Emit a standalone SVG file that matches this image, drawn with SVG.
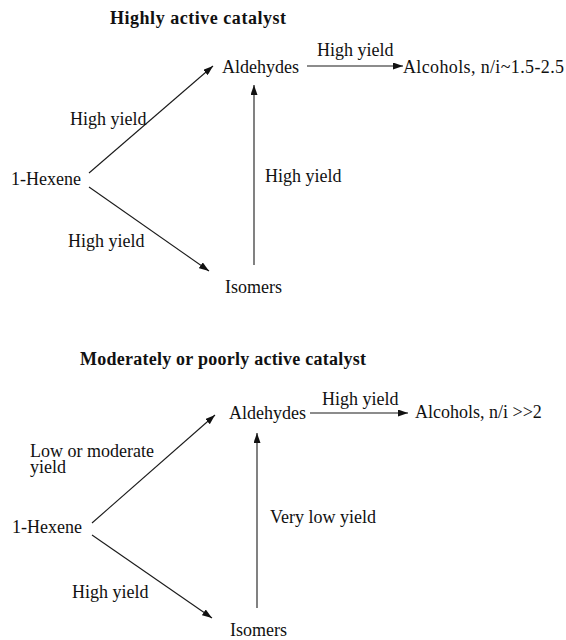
<svg xmlns="http://www.w3.org/2000/svg" width="566" height="640" viewBox="0 0 566 640">
<defs>
<style>
text{font-family:"Liberation Serif","Times New Roman",serif;font-size:18px;fill:#111;}
.title{font-weight:bold;}
.edge{stroke:#1a1a1a;stroke-width:1.1;fill:none;marker-end:url(#arr);}
</style>
<marker id="arr" markerUnits="userSpaceOnUse" markerWidth="10" markerHeight="7" refX="10" refY="3.5" orient="auto">
<path d="M0,0 L10,3.5 L0,7 z" fill="#111"/>
</marker>
</defs>
<rect width="566" height="640" fill="#fff"/>
<!-- Top section -->
<text class="title" x="110" y="24" textLength="176" lengthAdjust="spacing">Highly active catalyst</text>
<g id="top-hexene"><text x="11" y="185">1-Hexene</text></g>
<g id="top-aldehydes"><text x="222" y="73">Aldehydes</text></g>
<g id="top-alcohols"><text x="403" y="73" textLength="161" lengthAdjust="spacing">Alcohols, n/i~1.5-2.5</text></g>
<g id="top-isomers"><text x="225" y="293">Isomers</text></g>
<g id="top-connectors">
<line class="edge" x1="89" y1="173" x2="213" y2="66"/>
<line class="edge" x1="89" y1="187" x2="209" y2="271"/>
<line class="edge" x1="254" y1="265" x2="254" y2="85"/>
<line class="edge" x1="307" y1="66" x2="403" y2="66"/>
<text x="70" y="125">High yield</text>
<text x="68" y="247">High yield</text>
<text x="265" y="182">High yield</text>
<text x="317" y="56">High yield</text>
</g>
<!-- Bottom section -->
<text class="title" x="80" y="365" textLength="286" lengthAdjust="spacing">Moderately or poorly active catalyst</text>
<g id="bot-hexene"><text x="12" y="533">1-Hexene</text></g>
<g id="bot-aldehydes"><text x="229" y="419">Aldehydes</text></g>
<g id="bot-alcohols"><text x="415" y="418">Alcohols, n/i &gt;&gt;2</text></g>
<g id="bot-isomers"><text x="230" y="636">Isomers</text></g>
<g id="bot-connectors">
<line class="edge" x1="92" y1="523" x2="215" y2="415"/>
<line class="edge" x1="92" y1="535" x2="212" y2="618"/>
<line class="edge" x1="257" y1="608" x2="257" y2="433"/>
<line class="edge" x1="310" y1="413" x2="408" y2="413"/>
<text x="30" y="457">Low or moderate</text>
<text x="30" y="473">yield</text>
<text x="72" y="598">High yield</text>
<text x="270" y="523">Very low yield</text>
<text x="322" y="405">High yield</text>
</g>
</svg>
